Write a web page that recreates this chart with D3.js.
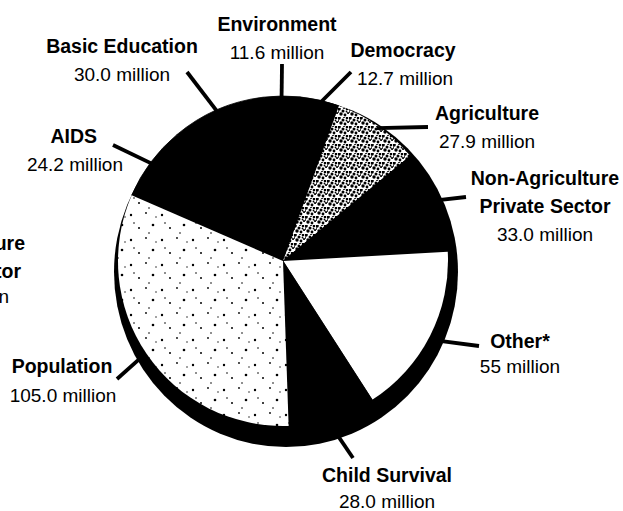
<!DOCTYPE html>
<html>
<head>
<meta charset="utf-8">
<script src="https://cdn.jsdelivr.net/npm/d3@7"></script>
<style>
  html, body { margin: 0; padding: 0; background: #fff; }
  svg { display: block; }
  text { font-family: "Liberation Sans", Arial, sans-serif; fill: #000; }
</style>
</head>
<body>
<svg id="chart" width="623" height="511"></svg>
<script>
// ---- data (millions) ----
const categories = ["AIDS", "Basic Education", "Environment", "Democracy", "Agriculture",
                    "Non-Agriculture Private Sector", "Other*", "Child Survival", "Population"];
const nameLines = [["AIDS"], ["Basic Education"], ["Environment"], ["Democracy"], ["Agriculture"],
                   ["Non-Agriculture", "Private Sector"], ["Other*"], ["Child Survival"], ["Population"]];
const values = [24.2, 30.0, 11.6, 12.7, 27.9, 33.0, 55, 28.0, 105.0];
const valueLabels = ["24.2 million", "30.0 million", "11.6 million", "12.7 million", "27.9 million",
                     "33.0 million", "55 million", "28.0 million", "105.0 million"];
const fillKind = ["black", "black", "black", "black", "denseDots", "black", "white", "black", "sparseDots"];

// fragment of a neighbouring chart's label, cut by the left edge
const croppedLines = ["Non-Agriculture", "Private Sector", "33.0 million"];

// ---- layout ----
const W = 623, H = 511;
const pieC = [283, 261], pieR = 165;               // top face of the pie
const rimC = [286, 272], rimRx = 172, rimRy = 175; // black base disc
const startDeg = -66.5;

// label layout: end of leader line, text anchor point, alignment
const labelLayout = [
  { end: [113, 145], x: 97,  y: 143, anchor: "end",    lineGap: 28, valueDx: 26 },
  { end: [187, 72],  x: 122, y: 53,  anchor: "middle", lineGap: 28, valueDx: 0 },
  { end: [282, 64],  x: 277, y: 31,  anchor: "middle", lineGap: 28, valueDx: 0 },
  { end: [351, 72],  x: 403, y: 57,  anchor: "middle", lineGap: 28, valueDx: 2 },
  { end: [428, 127], x: 487, y: 120, anchor: "middle", lineGap: 28, valueDx: 0 },
  { end: [466, 197], x: 545, y: 185, anchor: "middle", lineGap: 28, valueDx: 0 },
  { end: [479, 346], x: 520, y: 348, anchor: "middle", lineGap: 25, valueDx: 0 },
  { end: [353, 458], x: 387, y: 482, anchor: "middle", lineGap: 26, valueDx: 0 },
  { end: [117, 379], x: 62,  y: 373, anchor: "middle", lineGap: 29, valueDx: 1 }
];

const svg = d3.select("#chart");
svg.append("rect").attr("width", W).attr("height", H).attr("fill", "#fff");

// ---- stipple patterns (texture only) ----
const defs = svg.append("defs");
const dense = defs.append("pattern").attr("id", "denseDots")
  .attr("patternUnits", "userSpaceOnUse").attr("width", 11).attr("height", 9);
dense.append("rect").attr("width", 11).attr("height", 9).attr("fill", "#fff");
[[1,1,1.8],[5,3,1.5],[9,1,1.3],[3,6,1.7],[7,7,1.4],[10,5,1.1],[0,4,1.0],[6,0,1.1],[8.5,3.5,0.9]]
  .forEach(d => dense.append("circle").attr("cx", d[0]).attr("cy", d[1]).attr("r", d[2]).attr("fill", "#000"));
const sparse = defs.append("pattern").attr("id", "sparseDots")
  .attr("patternUnits", "userSpaceOnUse").attr("width", 31).attr("height", 25);
sparse.append("rect").attr("width", 31).attr("height", 25).attr("fill", "#fff");
[[3,4,1.2],[18,2,0.9],[25,14,1.3],[11,17,1.0],[21,22,0.8],[6,12,0.8],[28,6,0.7]]
  .forEach(d => sparse.append("circle").attr("cx", d[0]).attr("cy", d[1]).attr("r", d[2]).attr("fill", "#000"));

const fillFor = k => k === "black" ? "#000" : k === "white" ? "#fff" : `url(#${k})`;

// ---- base disc ----
svg.append("ellipse").attr("cx", rimC[0]).attr("cy", rimC[1])
  .attr("rx", rimRx).attr("ry", rimRy).attr("fill", "#000");

// ---- pie ----
const rad = Math.PI / 180;
const pie = d3.pie().sort(null).value(d => d)
  .startAngle(startDeg * rad).endAngle((startDeg + 360) * rad);
const arcs = pie(values);
const arc = d3.arc().innerRadius(0).outerRadius(pieR);

svg.append("g").attr("transform", `translate(${pieC[0]},${pieC[1]})`)
  .selectAll("path").data(arcs).join("path")
  .attr("d", arc)
  .attr("fill", (d, i) => fillFor(fillKind[i]))
  .attr("stroke", (d, i) => fillKind[i] === "black" ? "#000" : "none")
  .attr("stroke-width", 0.8);

// ---- leader lines ----
function rimPoint(angle) {
  const dx = Math.sin(angle), dy = -Math.cos(angle);
  const ox = pieC[0] - rimC[0], oy = pieC[1] - rimC[1];
  const a = (dx * dx) / (rimRx * rimRx) + (dy * dy) / (rimRy * rimRy);
  const b = 2 * ((ox * dx) / (rimRx * rimRx) + (oy * dy) / (rimRy * rimRy));
  const c = (ox * ox) / (rimRx * rimRx) + (oy * oy) / (rimRy * rimRy) - 1;
  const t = (-b + Math.sqrt(b * b - 4 * a * c)) / (2 * a) - 4;
  return [pieC[0] + t * dx, pieC[1] + t * dy];
}

const lines = svg.append("g");
arcs.forEach((d, i) => {
  const p = rimPoint((d.startAngle + d.endAngle) / 2);
  const L = labelLayout[i];
  lines.append("line").attr("x1", p[0]).attr("y1", p[1])
    .attr("x2", L.end[0]).attr("y2", L.end[1])
    .attr("stroke", "#000").attr("stroke-width", 3.8).attr("stroke-linecap", "butt");
});

// ---- labels ----
const labels = svg.append("g");
arcs.forEach((d, i) => {
  const L = labelLayout[i];
  const t = labels.append("text").attr("text-anchor", L.anchor);
  nameLines[i].forEach((ln, k) => {
    t.append("tspan").attr("x", L.x).attr("y", L.y + k * L.lineGap)
      .attr("font-weight", "bold").attr("font-size", 19.5).text(ln);
  });
  t.append("tspan").attr("x", L.x + L.valueDx).attr("y", L.y + nameLines[i].length * L.lineGap)
    .attr("font-size", 19).text(valueLabels[i]);
});

// cropped label at left edge (as in the reference scan)
const crop = svg.append("text").attr("text-anchor", "end");
crop.append("tspan").attr("x", 25).attr("y", 250).attr("font-weight", "bold").attr("font-size", 19.5).text(croppedLines[0]);
crop.append("tspan").attr("x", 21).attr("y", 278).attr("font-weight", "bold").attr("font-size", 19.5).text(croppedLines[1]);
crop.append("tspan").attr("x", 9).attr("y", 303).attr("font-size", 19).text(croppedLines[2]);
</script>
</body>
</html>
